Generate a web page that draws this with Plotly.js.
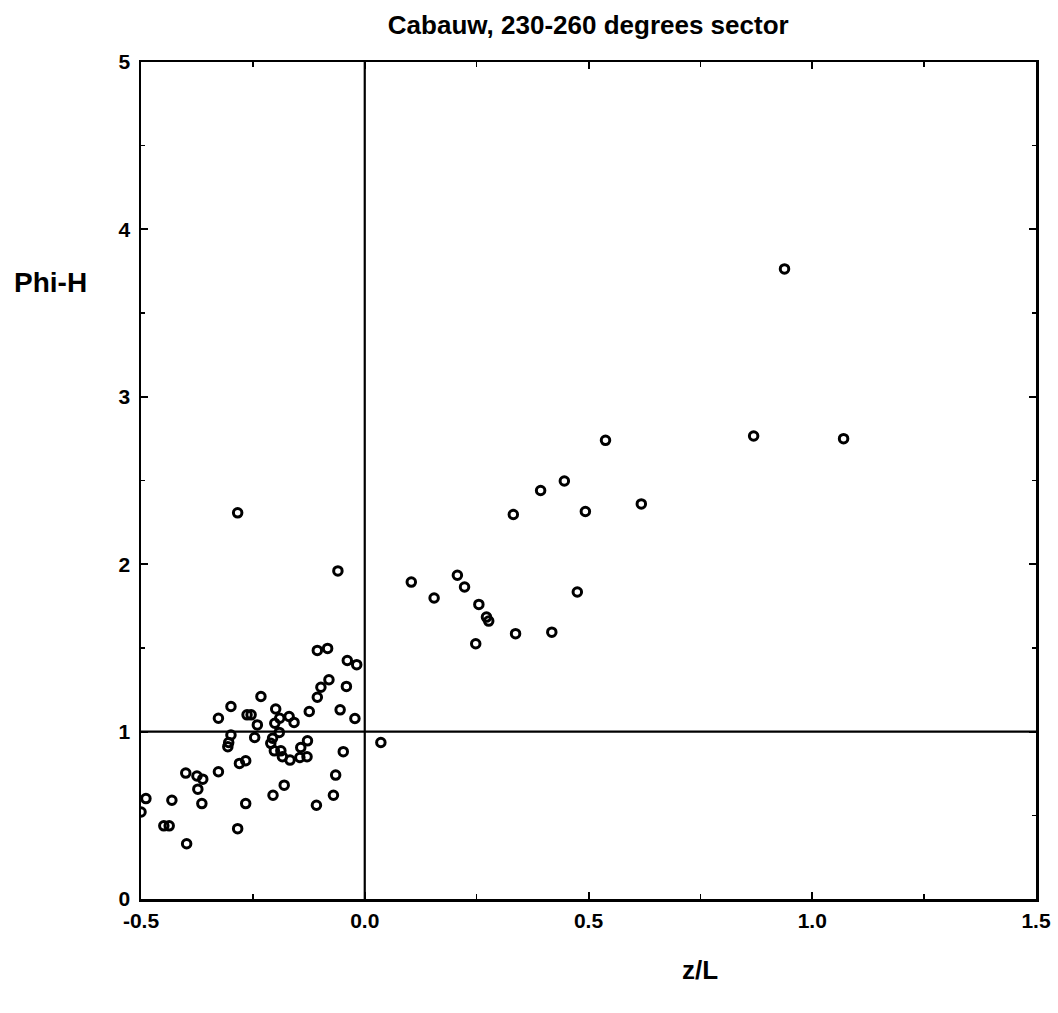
<!DOCTYPE html>
<html>
<head>
<meta charset="utf-8">
<script src="https://cdn.plot.ly/plotly-3.0.1.min.js"></script>
<style>html,body{margin:0;padding:0;background:#fff;}#chart{width:1058px;height:1013px;}</style>
</head>
<body>
<div id="chart"></div>
<script>
// z/L (stability parameter) values
const zL = [
  -0.106, -0.083, -0.039, -0.018, -0.080, -0.098, -0.106, -0.041, -0.124, -0.055,
  -0.022, -0.048, -0.065, -0.070, -0.108, -0.284, -0.060, -0.232, -0.299, -0.327,
  -0.263, -0.254, -0.240, -0.246, -0.299, -0.304, -0.306, -0.199, -0.190, -0.201,
  -0.169, -0.158, -0.191, -0.206, -0.210, -0.202, -0.1875, -0.184, -0.167, -0.143,
  -0.128, -0.145, -0.129, -0.280, -0.266, -0.327, -0.400, -0.375, -0.362, -0.373,
  -0.364, -0.431, -0.489, -0.500, -0.449, -0.437, -0.398, -0.284, -0.266, -0.205,
  -0.180,
  0.036, 0.104, 0.155, 0.207, 0.223, 0.255, 0.272, 0.277, 0.248, 0.337,
  0.418, 0.475, 0.332, 0.393, 0.446, 0.493, 0.538, 0.618, 0.938, 0.869,
  1.070
];
// Phi-H values
const phiH = [
  1.485, 1.497, 1.425, 1.400, 1.310, 1.265, 1.205, 1.270, 1.120, 1.130,
  1.078, 0.880, 0.740, 0.620, 0.560, 2.307, 1.960, 1.210, 1.150, 1.080,
  1.100, 1.100, 1.040, 0.965, 0.980, 0.935, 0.910, 1.135, 1.080, 1.050,
  1.090, 1.055, 0.995, 0.960, 0.930, 0.885, 0.885, 0.850, 0.830, 0.905,
  0.945, 0.845, 0.850, 0.810, 0.826, 0.760, 0.752, 0.735, 0.716, 0.656,
  0.570, 0.590, 0.600, 0.520, 0.437, 0.437, 0.330, 0.420, 0.570, 0.620,
  0.680,
  0.935, 1.893, 1.798, 1.934, 1.864, 1.760, 1.684, 1.660, 1.525, 1.585,
  1.594, 1.834, 2.297, 2.440, 2.497, 2.315, 2.740, 2.360, 3.764, 2.766,
  2.750
];
const xTickVals = [-0.5, 0.0, 0.5, 1.0, 1.5];
const xTickText = ["-0.5", "0.0", "0.5", "1.0", "1.5"];
const yTickVals = [0, 1, 2, 3, 4, 5];
const yTickText = ["0", "1", "2", "3", "4", "5"];
const refX = 0;   // vertical reference line at z/L = 0
const refY = 1;   // horizontal reference line at Phi-H = 1

const FONT = '"Liberation Sans", Arial, sans-serif';
const bold = arr => arr.map(t => '<b>' + t + '</b>');

const trace = {
  x: zL, y: phiH, type: 'scatter', mode: 'markers',
  marker: {symbol: 'circle-open', size: 8.5, color: '#000', line: {color: '#000', width: 3}},
  cliponaxis: true, hoverinfo: 'x+y'
};

const layout = {
  width: 1058, height: 1013,
  margin: {l: 141, r: 22, t: 62, b: 114},
  paper_bgcolor: '#fff', plot_bgcolor: '#fff',
  showlegend: false,
  font: {family: FONT, color: '#000'},
  title: {text: '<b>Cabauw, 230-260 degrees sector</b>', font: {family: FONT, size: 26, color: '#000'},
          x: 0.556, xanchor: 'center', y: 0.975, yanchor: 'middle'},
  xaxis: {
    range: [-0.5, 1.5], showgrid: false, zeroline: false,
    showline: true, linecolor: '#000', linewidth: 2.5, mirror: 'ticks',
    ticks: 'inside', ticklen: 7, tickwidth: 2, tickcolor: '#000',
    tickvals: xTickVals, ticktext: bold(xTickText),
    tickfont: {family: FONT, size: 21, color: '#000'},
    minor: {tickvals: [-0.25, 0.25, 0.75, 1.25], ticks: 'inside', ticklen: 5, tickwidth: 1.5, tickcolor: '#000', showgrid: false},
    ticklabelstandoff: 1
  },
  yaxis: {
    range: [0, 5], showgrid: false, zeroline: false,
    showline: true, linecolor: '#000', linewidth: 2.5, mirror: 'ticks',
    ticks: 'inside', ticklen: 7, tickwidth: 2, tickcolor: '#000',
    tickvals: yTickVals, ticktext: bold(yTickText),
    tickfont: {family: FONT, size: 21, color: '#000'},
    minor: {tickvals: [0.5, 1.5, 2.5, 3.5, 4.5], ticks: 'inside', ticklen: 4, tickwidth: 1.5, tickcolor: '#000', showgrid: false},
    ticklabelstandoff: 4
  },
  shapes: [
    {type: 'line', xref: 'x', yref: 'y', x0: refX, x1: refX, y0: 0, y1: 5, line: {color: '#000', width: 2.2}},
    {type: 'line', xref: 'x', yref: 'y', x0: -0.5, x1: 1.5, y0: refY, y1: refY, line: {color: '#000', width: 2.2}}
  ],
  annotations: [
    {text: '<b>z/L</b>', xref: 'paper', yref: 'paper', x: 0.625, y: -0.085, xanchor: 'center', yanchor: 'middle',
     showarrow: false, font: {family: FONT, size: 26, color: '#000'}},
    {text: '<b>Phi-H</b>', xref: 'paper', yref: 'paper', x: -0.101, y: 0.736, xanchor: 'center', yanchor: 'middle',
     showarrow: false, font: {family: FONT, size: 28, color: '#000'}}
  ]
};

Plotly.newPlot('chart', [trace], layout, {displayModeBar: false, staticPlot: true});
</script>
</body>
</html>
